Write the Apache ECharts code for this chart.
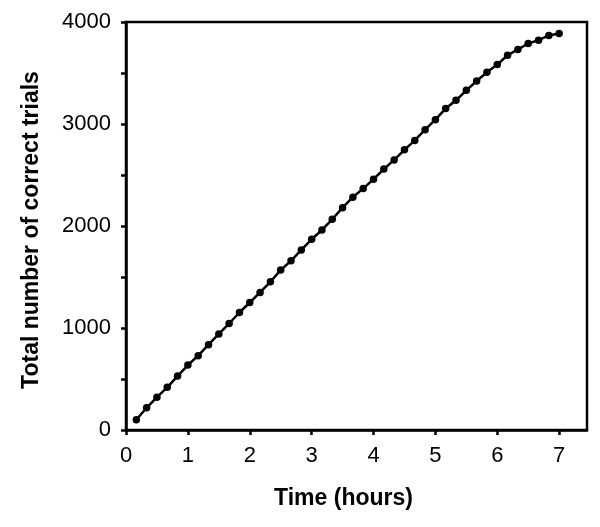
<!DOCTYPE html>
<html>
<head>
<meta charset="utf-8">
<script src="https://cdn.jsdelivr.net/npm/echarts@6/dist/echarts.min.js"></script>
<style>
  html, body { margin: 0; padding: 0; background: #fff; }
  #chart { width: 600px; height: 527px; }
</style>
</head>
<body>
<div id="chart"></div>
<script>
// one sample every 10 minutes
const hours = [
  1, 2, 3, 4, 5, 6, 7, 8, 9, 10, 11, 12, 13, 14,
  15, 16, 17, 18, 19, 20, 21, 22, 23, 24, 25, 26, 27, 28,
  29, 30, 31, 32, 33, 34, 35, 36, 37, 38, 39, 40, 41, 42
].map((k) => k / 6)

const correctTrials = [
  100, 218, 322, 418, 529, 637, 729, 837, 942, 1044, 1152, 1250, 1349, 1453,
  1568, 1659, 1765, 1870, 1961, 2066, 2180, 2283, 2367, 2459, 2558, 2648, 2747, 2839,
  2944, 3042, 3151, 3232, 3330, 3422, 3507, 3583, 3674, 3731, 3789, 3822, 3868, 3888
]

const xTicks = [0, 1, 2, 3, 4, 5, 6, 7]
const yTicks = [0, 1000, 2000, 3000, 4000]

const font = '"Liberation Sans", Arial, sans-serif'

const chart = echarts.init(document.getElementById('chart'), null, { renderer: 'canvas' })

chart.setOption({
  animation: false,
  grid: {
    left: 126, right: 13, top: 22, bottom: 97,
    show: true, borderColor: '#000', borderWidth: 2.5, backgroundColor: 'transparent',
  },
  xAxis: {
    type: 'value',
    min: 0,
    max: 7.45,
    interval: 1,
    name: 'Time (hours)',
    nameLocation: 'middle',
    nameGap: 57,
    nameTextStyle: { fontFamily: font, fontSize: 23, fontWeight: 'bold', color: '#000', padding: [0, 26, 0, 0] },
    axisLine: { show: true, lineStyle: { color: '#000', width: 2.5 } },
    axisTick: { show: true, length: 5, lineStyle: { color: '#000', width: 2.5 } },
    axisLabel: {
      showMaxLabel: false,
      fontFamily: font, fontSize: 22, color: '#000', margin: 15,
      formatter: (v) => (xTicks.includes(v) ? String(v) : ''),
    },
    splitLine: { show: false },
  },
  yAxis: {
    type: 'value',
    min: 0,
    max: 4000,
    interval: 500,
    name: 'Total number of correct trials',
    nameLocation: 'middle',
    nameGap: 83,
    nameTextStyle: { fontFamily: font, fontSize: 23, fontWeight: 'bold', color: '#000', padding: [0, 8, 0, 0] },
    axisLine: { show: true, lineStyle: { color: '#000', width: 2.5 } },
    axisTick: { show: true, length: 5, lineStyle: { color: '#000', width: 2.5 } },
    axisLabel: {
      fontFamily: font, fontSize: 22, color: '#000', margin: 15,
      formatter: (v) => (yTicks.includes(v) ? String(v) : ''),
    },
    splitLine: { show: false },
  },
  series: [
    {
      type: 'line',
      data: hours.map((h, i) => [h, correctTrials[i]]),
      symbol: 'circle',
      symbolSize: 7.5,
      itemStyle: { color: '#000' },
      lineStyle: { color: '#000', width: 2.5 },
    },
  ],
})
</script>
</body>
</html>
